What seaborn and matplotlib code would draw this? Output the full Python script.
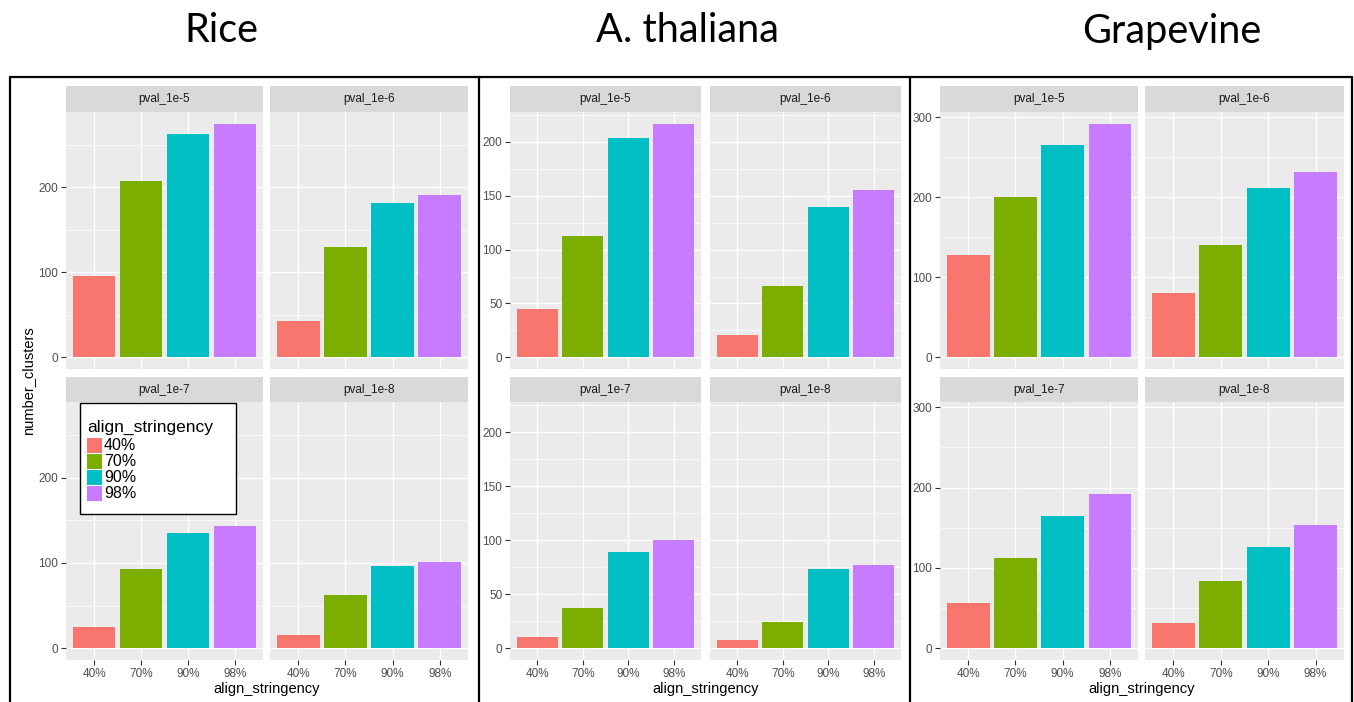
import numpy as np
import pandas as pd
import matplotlib
matplotlib.use("Agg")
import matplotlib.pyplot as plt
import seaborn as sns
from matplotlib.patches import Rectangle
from matplotlib.lines import Line2D
from matplotlib.ticker import MultipleLocator

# ---------------- data ----------------
categories = ["40%", "70%", "90%", "98%"]
pvals = ["pval_1e-5", "pval_1e-6", "pval_1e-7", "pval_1e-8"]
species = ["Rice", "A. thaliana", "Grapevine"]

rice_1e5 = [96, 207, 263, 275]
rice_1e6 = [43, 130, 182, 191]
rice_1e7 = [25, 93, 135, 143]
rice_1e8 = [15, 62, 96, 101]

ath_1e5 = [45, 113, 204, 217]
ath_1e6 = [21, 66, 140, 155]
ath_1e7 = [10, 37, 89, 100]
ath_1e8 = [8, 24, 73, 77]

grape_1e5 = [128, 200, 265, 292]
grape_1e6 = [81, 141, 211, 232]
grape_1e7 = [56, 113, 165, 192]
grape_1e8 = [32, 84, 126, 153]

colors = ["#F8766D", "#7CAE00", "#00BFC4", "#C77CFF"]

species_data = {
    "Rice": [rice_1e5, rice_1e6, rice_1e7, rice_1e8],
    "A. thaliana": [ath_1e5, ath_1e6, ath_1e7, ath_1e8],
    "Grapevine": [grape_1e5, grape_1e6, grape_1e7, grape_1e8],
}
y_steps = {"Rice": 100, "A. thaliana": 50, "Grapevine": 100}

# ---------------- layout (pixels) ----------------
W, H = 1354, 702
sns.set_theme(style="darkgrid")
plt.rcParams['font.family'] = ['Liberation Sans', 'DejaVu Sans']

fig = plt.figure(figsize=(W / 100, H / 100), dpi=100)
fig.patch.set_facecolor("white")


def rect(x0, y0, x1, y1):
    return [x0 / W, 1 - y1 / H, (x1 - x0) / W, (y1 - y0) / H]


panel_cols = {
    "Rice": [(66, 263), (270, 468)],
    "A. thaliana": [(510, 701), (710, 901)],
    "Grapevine": [(940, 1138), (1145, 1344)],
}
rows = [((86, 112), (112, 369)), ((377, 402), (402, 660))]
title_x = {"Rice": 221, "A. thaliana": 687, "Grapevine": 1172}

for sp in species:
    series = species_data[sp]
    ymax = max(max(s) for s in series)
    lo, hi = -0.05 * ymax, 1.05 * ymax
    step = y_steps[sp]
    for k, (pv, vals) in enumerate(zip(pvals, series)):
        r, c = divmod(k, 2)
        (s0, s1), (p0, p1) = rows[r]
        x0, x1 = panel_cols[sp][c]
        ax = fig.add_axes(rect(x0, p0, x1, p1))
        df = pd.DataFrame({"align_stringency": categories, "number_clusters": vals})
        sns.barplot(data=df, x="align_stringency", y="number_clusters",
                    hue="align_stringency", order=categories, hue_order=categories,
                    palette=colors, width=0.9, saturation=1, linewidth=0,
                    legend=False, ax=ax)
        ax.set_facecolor("#EBEBEB")
        for sp_ in ax.spines.values():
            sp_.set_visible(False)
        ax.set_xlim(-0.6, 3.6)
        ax.set_ylim(lo, hi)
        ax.yaxis.set_major_locator(MultipleLocator(step))
        ax.yaxis.set_minor_locator(MultipleLocator(step / 2))
        ax.set_axisbelow(True)
        ax.grid(which="major", color="white", linewidth=1.0)
        ax.grid(which="minor", axis="y", color="white", linewidth=0.5)
        ax.grid(which="minor", axis="x", visible=False)
        ax.tick_params(which="major", length=3.5, width=0.8, color="#333333",
                       labelsize=8.5, labelcolor="#4D4D4D", pad=2,
                       left=(c == 0), bottom=(r == 1),
                       labelleft=(c == 0), labelbottom=(r == 1))
        ax.tick_params(which="minor", length=0)
        ax.set_xlabel("")
        ax.set_ylabel("")
        # strip
        sax = fig.add_axes(rect(x0, s0, x1, s1))
        sax.set_facecolor("#D9D9D9")
        sax.set_xticks([])
        sax.set_yticks([])
        sax.grid(False)
        for sp_ in sax.spines.values():
            sp_.set_visible(False)
        sax.text(0.5, 0.5, pv, ha="center", va="center", fontsize=8.5,
                 color="#1A1A1A", transform=sax.transAxes)
    # x axis title
    cx = (panel_cols[sp][0][0] + panel_cols[sp][1][1]) / 2
    fig.text(cx / W, 1 - 689 / H, "align_stringency", ha="center", va="center",
             fontsize=10.5, color="black")
    # species title
    fig.text(title_x[sp] / W, 1 - 31 / H, sp, ha="center", va="center",
             fontsize=28.5, family=["Lato", "DejaVu Sans"], color="black")

# y axis title (Rice only)
fig.text(28 / W, 1 - 381 / H, "number_clusters", rotation=90, ha="center",
         va="center", fontsize=10.5, color="black")

# boxes around species groups
lw = 1.6
fig.add_artist(Line2D([10 / W, 1352 / W], [1 - 77 / H, 1 - 77 / H],
                      transform=fig.transFigure, color="black", lw=lw))
for xv in [10, 479, 910, 1352]:
    fig.add_artist(Line2D([xv / W, xv / W], [1 - 77 / H, 0],
                          transform=fig.transFigure, color="black", lw=lw))

# legend (manual, as in reference)
fig.add_artist(Rectangle((80 / W, 1 - 514 / H), (236 - 80) / W, (514 - 403) / H,
                         transform=fig.transFigure, facecolor="white",
                         edgecolor="black", lw=1.0))
fig.text(87 / W, 1 - 427 / H, "align_stringency", ha="left", va="center",
         fontsize=12.5, color="black")
key_tops = [438, 454, 470, 486]
for cat, col, kt in zip(categories, colors, key_tops):
    fig.add_artist(Rectangle((87 / W, 1 - (kt + 15) / H), 15 / W, 15 / H,
                             transform=fig.transFigure, facecolor=col,
                             edgecolor="none"))
    fig.text(104 / W, 1 - (kt + 8) / H, cat, ha="left", va="center",
             fontsize=11.5, color="black")

fig.savefig("out.png", dpi=100, facecolor="white")
